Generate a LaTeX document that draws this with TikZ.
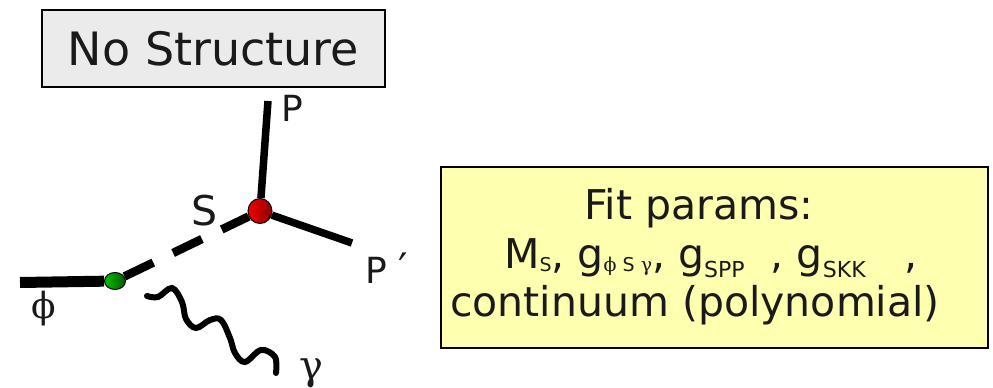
\documentclass[tikz,border=0pt]{standalone}
\usepackage{fontspec}
\setmainfont{DejaVu Sans}
\newfontfamily\greekfont{DejaVu Serif}
\usetikzlibrary{shapes.geometric}
\definecolor{inkgray}{HTML}{1A1A1A}
\definecolor{titlegray}{HTML}{EBEBEB}
\definecolor{paramyellow}{HTML}{FFFFB0}
\newcommand{\lowsub}[3]{\raisebox{-#2}{\fontsize{#1}{#1}\selectfont #3}}

\begin{document}
\begin{tikzpicture}[
  x=1pt, y=-1pt,
  text=inkgray,
  lbl/.style={inner sep=0pt, font=\fontsize{36}{40}\selectfont},
  slbl/.style={inner sep=0pt, font=\fontsize{41}{45}\selectfont},
  grk/.style={inner sep=0pt, font=\greekfont\fontsize{36}{40}\selectfont},
  vertex/.style={ellipse, draw=black, line width=1pt, inner sep=0pt},
  leg/.style={line width=7.5pt, draw=black},
  scalar/.style={line width=8.5pt, draw=black, dash pattern=on 32pt off 22pt},
  photon/.style={line width=6pt, draw=black, line cap=round},
  framebox/.style={draw=black, line width=1.5pt}
]
  \useasboundingbox (0,0) rectangle (993,388);

  %% title
  \node[framebox, fill=titlegray, minimum width=343pt, minimum height=77pt,
    font=\fontsize{46}{50}\selectfont] (title) at (213.5,48.5) {No Structure};

  %% vertices
  \node[vertex, left color=green!75!black, right color=green!35!black,
    minimum width=21pt, minimum height=17pt] (gvx) at (115,281) {};
  \node[vertex, left color=red!95!black, right color=red!55!black,
    minimum width=24pt, minimum height=25pt] (rvx) at (260,211) {};

  %% free ends
  \coordinate (phiend) at (20,282.5);
  \coordinate (ptop) at (268,101);
  \coordinate (pend) at (352,243);
  \coordinate (wstart) at (147,296);
  \coordinate (wend) at (276,373);

  %% legs
  \draw[line width=11pt] (phiend) -- (gvx);
  \draw[scalar] (gvx) -- (rvx);
  \draw[leg] (rvx) -- (ptop);
  \draw[leg] (rvx) -- (pend);
  \draw[photon] plot[smooth, tension=0.6] coordinates {(wstart) (158,297)
    (172,288) (182,302) (186,319) (196,328) (210,320) (221,320) (230,338)
    (235,353) (245,362) (261,350) (275,357) (wend)};

  %% labels
  \node[grk] (philbl) at (44,309) {ϕ};
  \node[slbl, anchor=base] (slbl) at (205,225) {S};
  \node[lbl, anchor=base] (plbl) at (292,121) {P};
  \node[lbl, anchor=base west] (pplbl) at (365,283) {P {\fontsize{42}{42}\selectfont ′}};
  \node[grk, font=\greekfont\fontsize{40}{44}\selectfont] (glbl) at (311,373) {γ};

  %% fit parameters
  \node[framebox, fill=paramyellow, minimum width=547pt, minimum height=181pt]
    (params) at (714.5,257.5) {};
  \node[align=center, inner sep=0pt, font=\fontsize{41}{48.5}\selectfont]
    (paramtxt) at (699,257) {Fit params:\\
    \hspace*{24pt}M\lowsub{19}{3pt}{S}, g\lowsub{19}{3pt}{{\greekfont ϕ} S {\greekfont γ}},
    g\lowsub{22}{9pt}{SPP}\ \ , g\lowsub{22}{9pt}{SKK}\ \ \ ,\\
    continuum (polynomial)\hspace*{8pt}};
\end{tikzpicture}
\end{document}
